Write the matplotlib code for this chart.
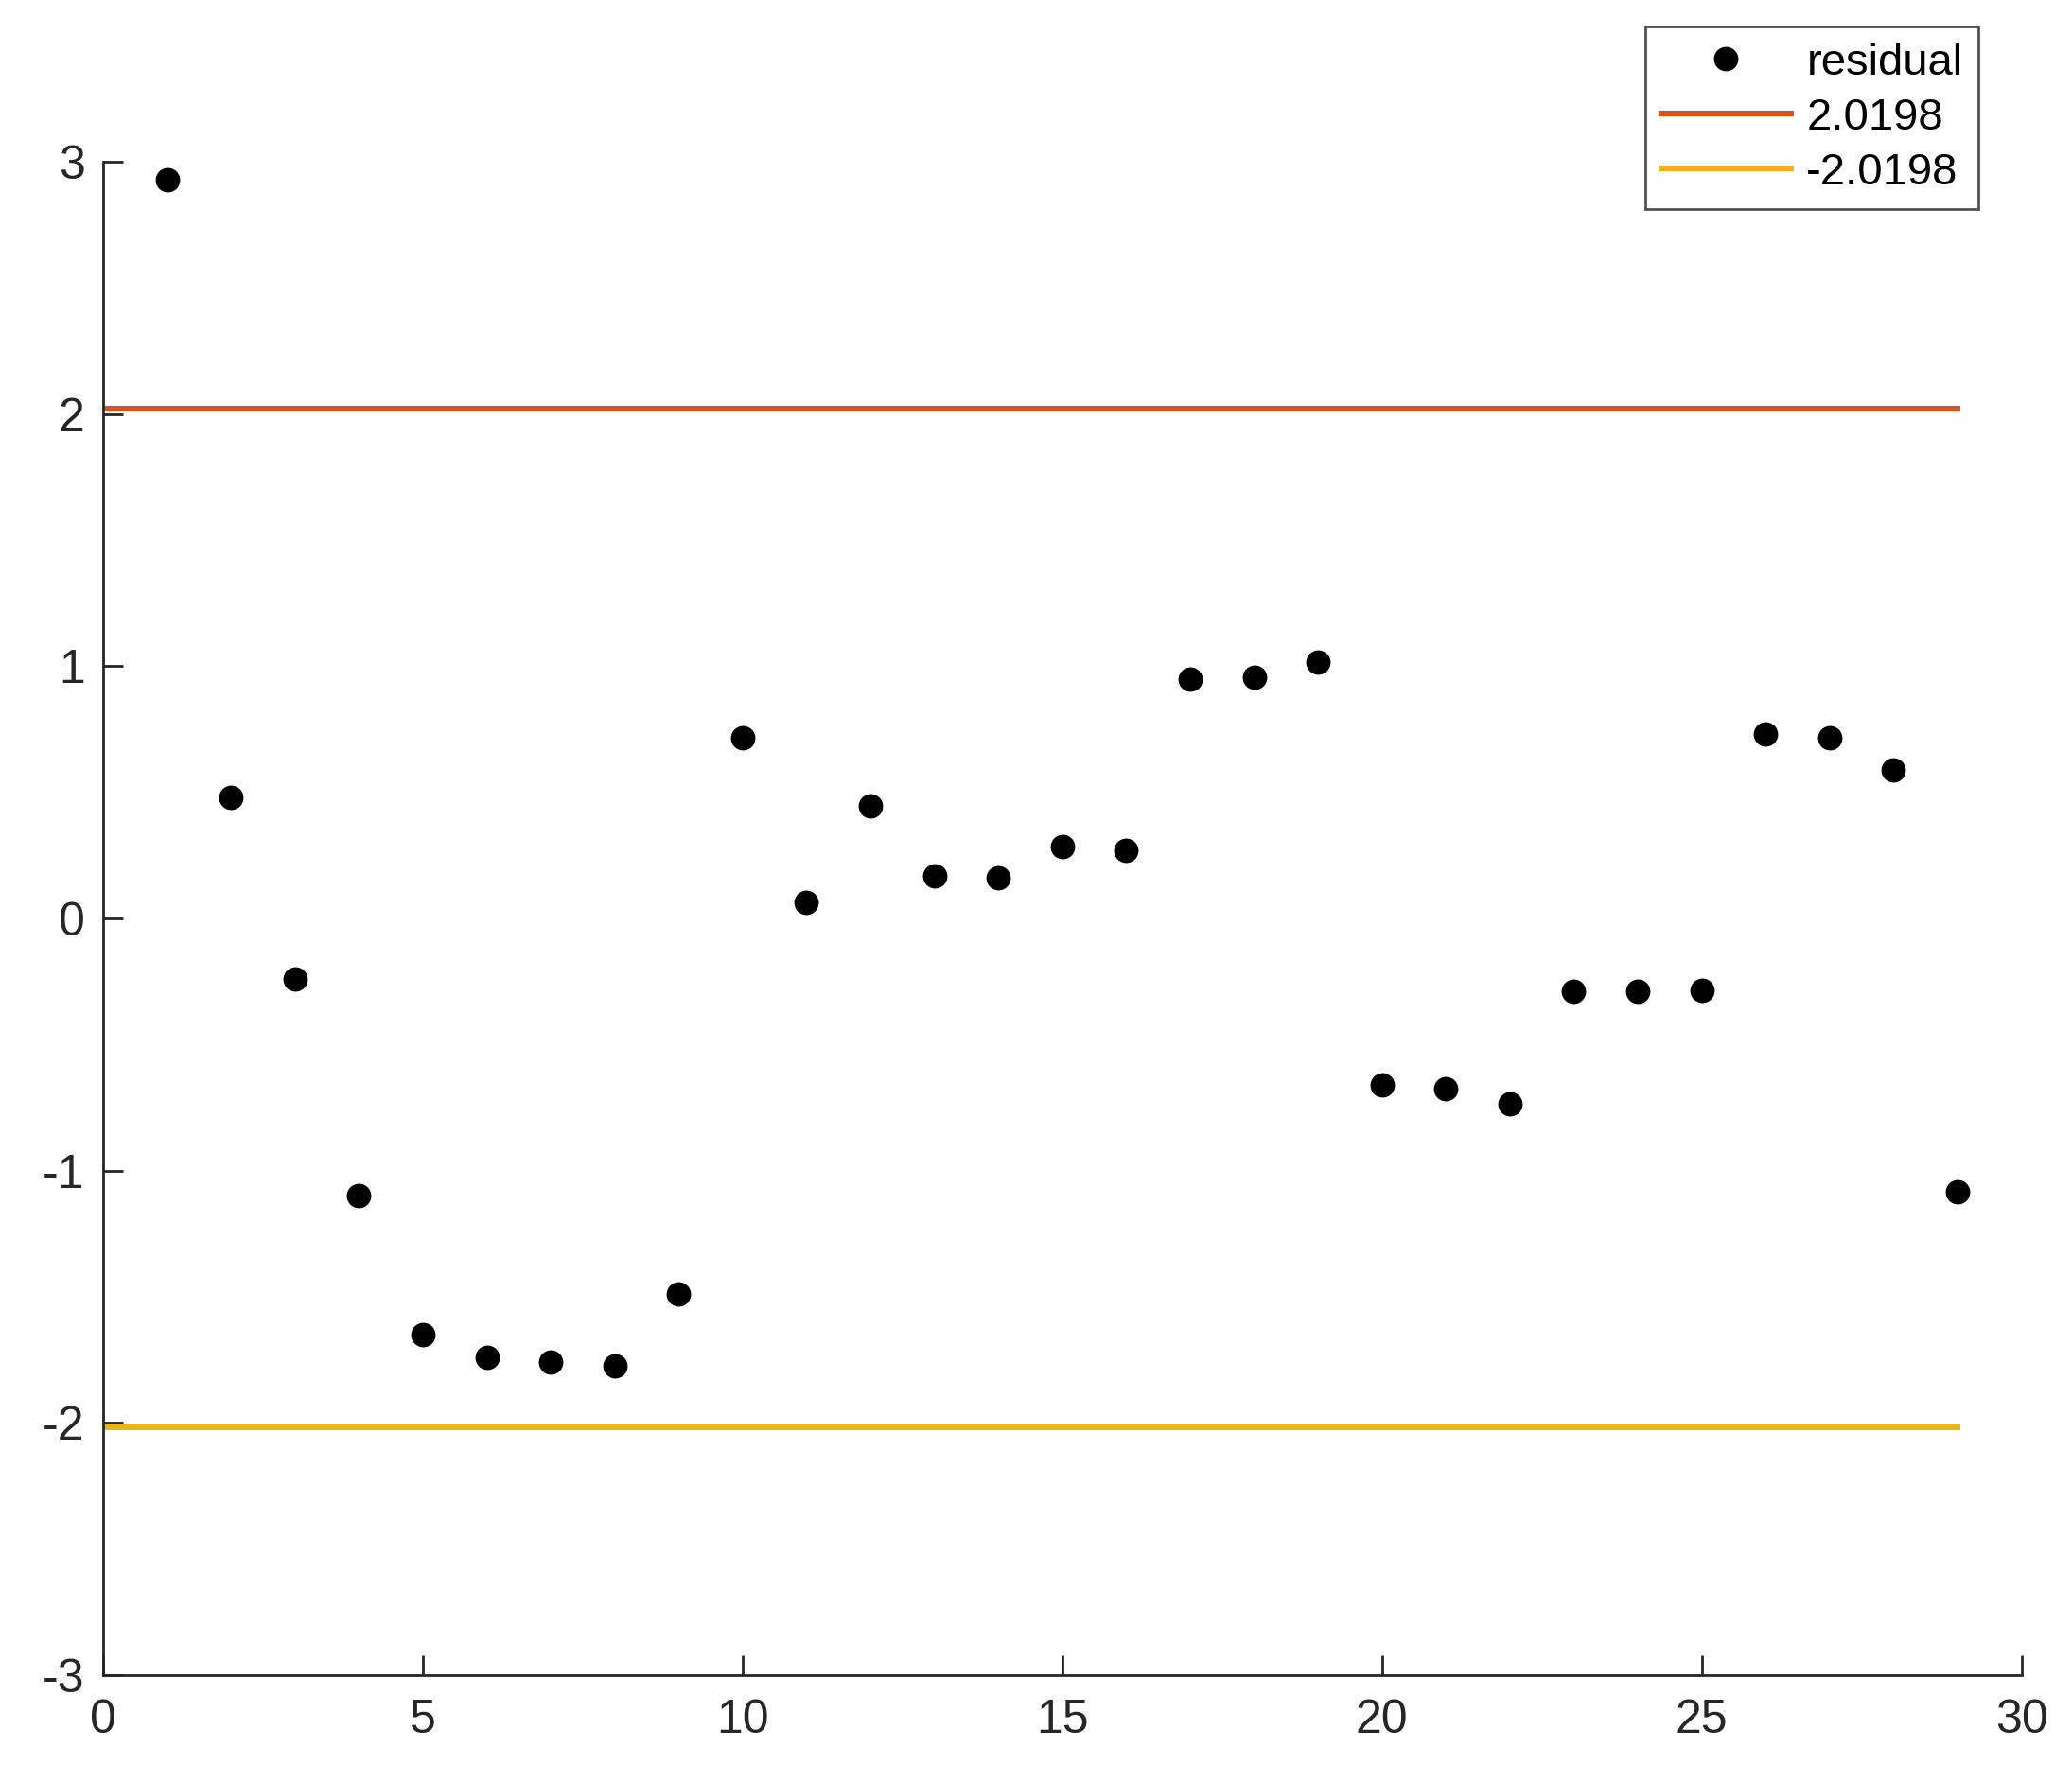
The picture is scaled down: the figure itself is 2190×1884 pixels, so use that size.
import matplotlib
matplotlib.use("Agg")
import matplotlib.pyplot as plt
import numpy as np

plt.rcParams['font.family'] = ['Liberation Sans', 'DejaVu Sans']

x = list(range(1, 30))
residual = [2.93, 0.48, -0.24, -1.10, -1.65, -1.74, -1.76, -1.775, -1.49, 0.715,
            0.065, 0.445, 0.17, 0.16, 0.285, 0.27, 0.95, 0.955, 1.015, -0.66,
            -0.675, -0.735, -0.29, -0.29, -0.285, 0.73, 0.715, 0.59, -1.085]
bound = 2.0198
line_x = [0, 29]
labels = ['residual', '2.0198', '-2.0198']
xticks = [0, 5, 10, 15, 20, 25, 30]
yticks = [-3, -2, -1, 0, 1, 2, 3]

fig = plt.figure(figsize=(10.95, 9.42), dpi=200)
ax = fig.add_axes([0.0498, 0.0601, 0.9258, 0.8491])

ax.plot(x, residual, 'o', color='black', markersize=8.3, label=labels[0])
ax.plot(line_x, [bound, bound], '-', color='#D95319', lw=2.2, label=labels[1])
ax.plot(line_x, [-bound, -bound], '-', color='#EDB120', lw=2.2, label=labels[2])

ax.set_xlim(0, 30)
ax.set_ylim(-3, 3)
ax.set_xticks(xticks)
ax.set_yticks(yticks)
ax.set_xticklabels([str(t) for t in xticks])
ax.set_yticklabels([str(t) for t in yticks])

for s in ['top', 'right']:
    ax.spines[s].set_visible(False)
for s in ['left', 'bottom']:
    ax.spines[s].set_color('#262626')
    ax.spines[s].set_linewidth(1.0)

ax.tick_params(axis='both', direction='in', length=7.5, width=1.0,
               colors='#262626', labelsize=18, labelcolor='#262626')
ax.tick_params(axis='y', pad=7)
ax.tick_params(axis='x', pad=9)

leg = ax.legend(loc='upper right', bbox_to_anchor=(2091/2190, 1 - 28/1884),
                bbox_transform=fig.transFigure, borderaxespad=0,
                fontsize=17, frameon=True, fancybox=False,
                handlelength=2.9, handletextpad=0.35, labelspacing=0.3,
                borderpad=0.35, numpoints=1)
leg.get_frame().set_edgecolor('#262626')
leg.get_frame().set_linewidth(1.0)

fig.savefig('out.png', dpi=200, facecolor='white')
